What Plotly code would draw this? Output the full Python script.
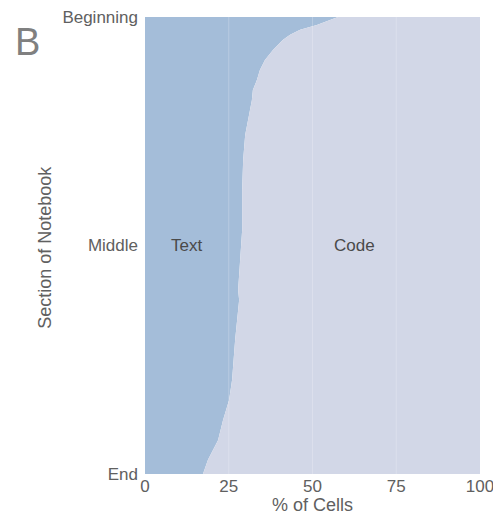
import plotly.graph_objects as go

# Position within the notebook (0 = beginning, 100 = end)
section_pos = [0, 0.7, 1.75, 2.8, 3.9, 5.0, 7.2, 9.4, 11.6, 13.8, 16.0, 18.2, 22.5,
               25.8, 31.3, 37.9, 46.6, 53.2, 59.7, 61.9, 70.7, 79.4, 83.8, 88.2,
               92.6, 96.9, 100]
# Share of text (markdown) cells at each position, in percent
text_pct = [57.6, 55.2, 51.3, 46.3, 43.3, 41.2, 38.2, 35.8, 34.3, 33.4, 32.2, 31.9, 30.7,
            29.9, 29.3, 29.0, 29.0, 28.4, 27.8, 28.1, 26.9, 26.0, 25.1, 23.3,
            21.8, 18.8, 17.3]
total_pct = [100] * len(section_pos)

x_ticks = [0, 25, 50, 75, 100]
y_tickvals = [0, 50, 100]
y_ticktext = ["Beginning", "Middle", "End"]

text_color = "#a4bdd9"
code_color = "#d2d7e7"
label_color = "#606060"
font_family = "Liberation Sans, Arial, sans-serif"

fig = go.Figure()
fig.add_trace(go.Scatter(
    x=text_pct, y=section_pos, mode="lines", line=dict(width=0, color=text_color),
    fill="tozerox", fillcolor=text_color, hoverinfo="skip", showlegend=False))
fig.add_trace(go.Scatter(
    x=total_pct, y=section_pos, mode="lines", line=dict(width=0, color=code_color),
    fill="tonextx", fillcolor=code_color, hoverinfo="skip", showlegend=False))

# faint vertical grid lines drawn over the filled areas
for t in x_ticks[1:-1]:
    fig.add_shape(type="line", x0=t, x1=t, y0=0, y1=100, xref="x", yref="y",
                  line=dict(color="rgba(255,255,255,0.22)", width=1), layer="above")

fig.add_annotation(x=12.5, y=50, text="Text", showarrow=False,
                   font=dict(size=17, color="#4a4a4a", family=font_family))
fig.add_annotation(x=62.5, y=50, text="Code", showarrow=False,
                   font=dict(size=17, color="#4a4a4a", family=font_family))
# panel letter
fig.add_annotation(x=-0.395, y=0.945, xref="paper", yref="paper",
                   xanchor="left", yanchor="middle", text="B", showarrow=False,
                   font=dict(size=38, color="#808080", family=font_family))
# axis titles
fig.add_annotation(x=0.5, y=0, xref="paper", yref="paper", xanchor="center",
                   yanchor="middle", yshift=-31, text="% of Cells", showarrow=False,
                   borderpad=0, font=dict(size=18, color=label_color, family=font_family))
fig.add_annotation(x=0, y=0.495, xref="paper", yref="paper", xanchor="center",
                   yanchor="middle", xshift=-100, textangle=-90, text="Section of Notebook",
                   showarrow=False, borderpad=0,
                   font=dict(size=18, color=label_color, family=font_family))

fig.update_layout(
    width=493, height=515,
    margin=dict(l=145, r=13, t=17, b=41),
    paper_bgcolor="white", plot_bgcolor="white",
    font=dict(family=font_family, color=label_color, size=17),
    xaxis=dict(range=[0, 100], tickvals=x_ticks, showgrid=False, zeroline=False,
               ticks="", ticklabeloverflow="allow", ticklabelstandoff=0, automargin=False,
               tickfont=dict(size=17, color=label_color)),
    yaxis=dict(range=[100, 0], tickvals=y_tickvals, ticktext=y_ticktext, showgrid=False,
               zeroline=False, ticks="", ticklabelstandoff=6, ticklabeloverflow="allow",
               automargin=False, tickfont=dict(size=17, color=label_color)),
)

fig.write_html("out.html")
